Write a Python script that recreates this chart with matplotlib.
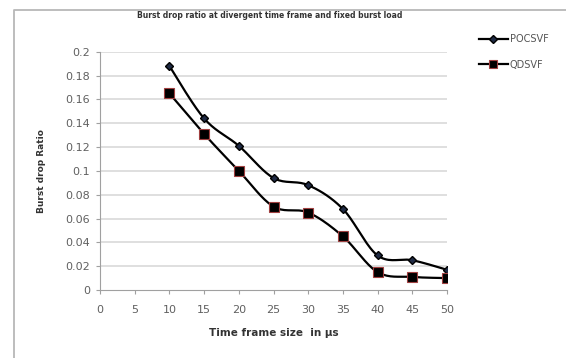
import matplotlib
matplotlib.use("Agg")
import matplotlib.pyplot as plt
import numpy as np
from matplotlib.lines import Line2D

# data
frame_size = [10, 15, 20, 25, 30, 35, 40, 45, 50]
pocsvf = [0.188, 0.144, 0.121, 0.094, 0.088, 0.068, 0.029, 0.025, 0.017]
qdsvf = [0.165, 0.131, 0.100, 0.070, 0.065, 0.045, 0.015, 0.011, 0.010]
x_ticks = [0, 5, 10, 15, 20, 25, 30, 35, 40, 45, 50]
y_ticks = [0, 0.02, 0.04, 0.06, 0.08, 0.1, 0.12, 0.14, 0.16, 0.18, 0.2]
y_tick_labels = ["0", "0.02", "0.04", "0.06", "0.08", "0.1", "0.12", "0.14", "0.16", "0.18", "0.2"]


def smooth(xs, ys, n=20):
    # excel-like smoothed line (catmull-rom bezier between points)
    xs = np.asarray(xs, float)
    ys = np.asarray(ys, float)
    px = np.concatenate([[xs[0]], xs, [xs[-1]]])
    py = np.concatenate([[ys[0]], ys, [ys[-1]]])
    ox, oy = [], []
    t = np.linspace(0, 1, n)
    for i in range(1, len(px) - 2):
        p0 = np.array([px[i], py[i]])
        p3 = np.array([px[i + 1], py[i + 1]])
        p1 = p0 + (np.array([px[i + 1], py[i + 1]]) - np.array([px[i - 1], py[i - 1]])) / 6
        p2 = p3 - (np.array([px[i + 2], py[i + 2]]) - np.array([px[i], py[i]])) / 6
        b = ((1 - t) ** 3)[:, None] * p0 + (3 * (1 - t) ** 2 * t)[:, None] * p1 \
            + (3 * (1 - t) * t ** 2)[:, None] * p2 + (t ** 3)[:, None] * p3
        ox.extend(b[:, 0])
        oy.extend(b[:, 1])
    return ox, oy


fig = plt.figure(figsize=(5.66, 3.58), dpi=100)
fig.patch.set_facecolor("white")
W, H = 566, 358

# outer chart border (left/top only visible)
fig.add_artist(Line2D([14 / W, 14 / W, 1.0], [0.0, 1 - 10 / H, 1 - 10 / H],
                      transform=fig.transFigure, color="#b8b8b8", linewidth=1.3))

ax = fig.add_axes([100 / W, 1 - 290 / H, 347 / W, 238.3 / H])
ax.set_xlim(0, 50)
ax.set_ylim(0, 0.2)

for yv in y_ticks[1:]:
    ax.axhline(yv, color="#d9d9d9", linewidth=1.2, zorder=0)

sx, sy = smooth(frame_size, pocsvf)
ax.plot(sx, sy, color="black", linewidth=1.6, zorder=3)
ax.plot(frame_size, pocsvf, linestyle="none", marker="D", markersize=4,
        markerfacecolor="#1f2a44", markeredgecolor="black", zorder=4)

sx, sy = smooth(frame_size, qdsvf)
ax.plot(sx, sy, color="black", linewidth=1.6, zorder=3)
ax.plot(frame_size, qdsvf, linestyle="none", marker="s", markersize=7,
        markerfacecolor="black", markeredgecolor="#a04040", markeredgewidth=0.8, zorder=4)

for s in ["top", "right"]:
    ax.spines[s].set_visible(False)
ax.spines["left"].set_color("#a0a0a0")
ax.spines["bottom"].set_color("#a0a0a0")
ax.set_xticks(x_ticks)
ax.set_yticks(y_ticks)
ax.set_yticklabels(y_tick_labels)
ax.tick_params(axis="both", colors="#a0a0a0", labelcolor="#606060", labelsize=8, length=3)
ax.tick_params(axis="x", pad=8)
ax.tick_params(axis="y", pad=4)

ax.set_xlabel("Time frame size  in µs", fontsize=7.5, fontweight="bold", color="#333333", labelpad=9)
fig.text(42 / W, 1 - 171 / H, "Burst drop Ratio", rotation=90, ha="center", va="center",
         fontsize=6.5, fontweight="bold", color="#333333")
fig.text(270 / W, 1 - 15 / H, "Burst drop ratio at divergent time frame and fixed burst load",
         ha="center", va="center", fontsize=5.5, fontweight="bold", color="#333333")

handles = [
    Line2D([0], [0], color="black", linewidth=1.6, marker="D", markersize=4,
           markerfacecolor="#1f2a44", markeredgecolor="black"),
    Line2D([0], [0], color="black", linewidth=1.6, marker="s", markersize=6,
           markerfacecolor="black", markeredgecolor="#a04040", markeredgewidth=0.8),
]
fig.legend(handles, ["POCSVF", "QDSVF"], loc="center left", bbox_to_anchor=(470 / W, 1 - 52 / H),
           frameon=False, fontsize=7, handlelength=3.0, handletextpad=0.2,
           labelspacing=1.6, labelcolor="#555555")

plt.savefig("out.png", dpi=100, facecolor="white")
plt.close()
